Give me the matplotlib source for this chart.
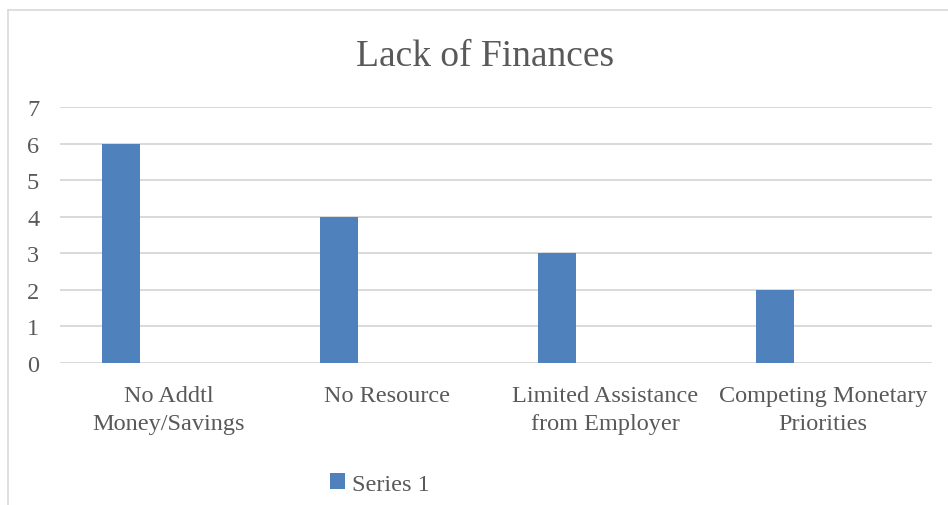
import matplotlib
matplotlib.use("Agg")
import matplotlib.pyplot as plt
from matplotlib.lines import Line2D
import numpy as np

categories = ["No Addtl\nMoney/Savings", "No Resource",
              "Limited Assistance\nfrom Employer", "Competing Monetary\nPriorities"]
series_1 = [6, 4, 3, 2]
y_ticks = [0, 1, 2, 3, 4, 5, 6, 7]

text_color = "#595959"
grid_color = "#d9d9d9"
bar_color = "#4f81bd"

plt.rcParams["font.family"] = ["Liberation Serif"]

W, H = 948, 506
fig = plt.figure(figsize=(W / 100, H / 100), dpi=100)

# plot area in pixel terms
left, right, top, bottom = 60, 932, 108, 364
ax = fig.add_axes([left / W, 1 - bottom / H, (right - left) / W, (bottom - top) / H])

x = np.arange(len(categories))
ax.bar(x - 0.22, series_1, width=0.175, color=bar_color, label="Series 1", zorder=3)

ax.set_xlim(-0.5, len(categories) - 0.5)
ax.set_ylim(0, 7)
ax.set_yticks(y_ticks)
ax.yaxis.grid(True, color=grid_color, linewidth=1.4, zorder=0)
for s in ax.spines.values():
    s.set_visible(False)
ax.tick_params(axis="both", length=0, labelsize=17.5, labelcolor=text_color)
ax.tick_params(axis="y", pad=15)
ax.tick_params(axis="x", pad=16)
ax.set_xticks(x)
ax.set_xticklabels(categories, linespacing=1.45)

fig.text(485 / W, 1 - 57 / H, "Lack of Finances", ha="center", va="center",
         fontsize=27, color=text_color)

fig.legend(loc="center", bbox_to_anchor=(380 / W, 1 - 485 / H), frameon=False,
           handlelength=0.6, handleheight=0.6, handletextpad=0.3,
           fontsize=17.5, labelcolor=text_color)

# chart border (top and left edges)
fig.add_artist(Line2D([8 / W, 1], [1 - 11 / H, 1 - 11 / H], color=grid_color, lw=1.2))
fig.add_artist(Line2D([8 / W, 8 / W], [0, 1 - 11 / H], color=grid_color, lw=1.2))

fig.savefig("out.png", dpi=100, facecolor="white")
